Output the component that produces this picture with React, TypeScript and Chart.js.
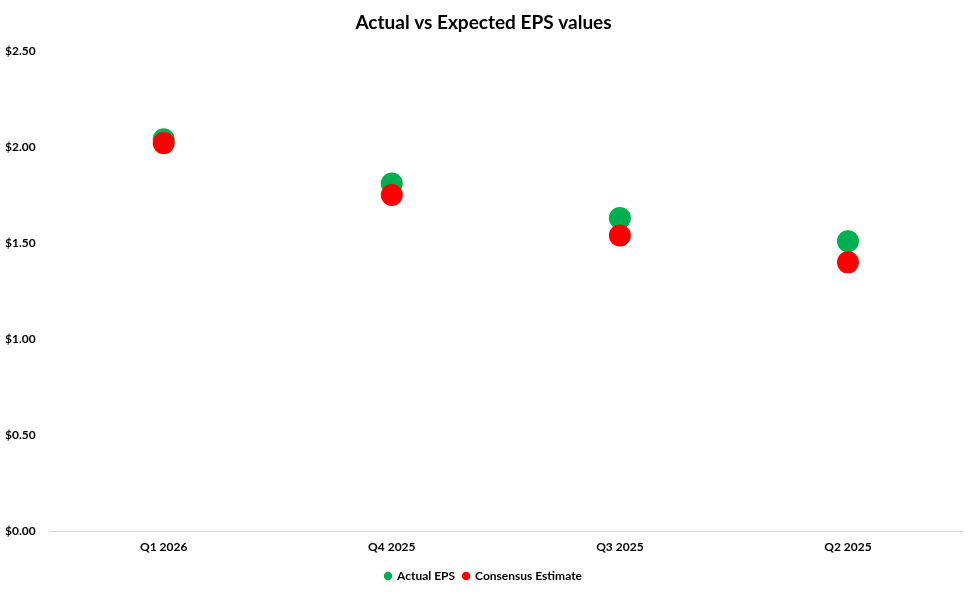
import React, { useEffect, useRef } from "react";
import { Chart, registerables } from "chart.js";

Chart.register(...registerables);

const categories = ["Q1 2026", "Q4 2025", "Q3 2025", "Q2 2025"];
const actualEPS = [2.04, 1.81, 1.63, 1.51];
const consensusEstimate = [2.02, 1.75, 1.54, 1.40];
const titleText = "Actual vs Expected EPS values";

const FONT = "Lato, 'Open Sans', sans-serif";

export default function App() {
  const ref = useRef<HTMLCanvasElement | null>(null);
  useEffect(() => {
    document.body.style.margin = "0";
    const ctx = ref.current!.getContext("2d")!;
    const chart = new Chart(ctx, {
      type: "line",
      data: {
        labels: categories,
        datasets: [
          {
            label: "Actual EPS",
            data: actualEPS,
            showLine: false,
            pointRadius: 11,
            pointHoverRadius: 11,
            pointBackgroundColor: "#00b050",
            pointBorderColor: "#00b050",
            backgroundColor: "#00b050",
            borderColor: "#00b050",
            borderWidth: 0,
            order: 1,
          },
          {
            label: "Consensus Estimate",
            data: consensusEstimate,
            showLine: false,
            pointRadius: 11,
            pointHoverRadius: 11,
            pointBackgroundColor: "#ff0000",
            pointBorderColor: "#ff0000",
            backgroundColor: "#ff0000",
            borderColor: "#ff0000",
            borderWidth: 0,
            order: 0,
          },
        ],
      },
      options: {
        animation: false,
        responsive: true,
        maintainAspectRatio: false,
        layout: { padding: { left: 5, right: 13, top: 0, bottom: 4 } },
        plugins: {
          title: {
            display: true,
            text: titleText,
            color: "#000000",
            font: { family: FONT, size: 19, weight: "bold" },
            padding: { top: 11, bottom: 17 },
          },
          legend: {
            position: "bottom",
            labels: {
              usePointStyle: true,
              pointStyle: "circle",
              boxWidth: 6,
              boxHeight: 6,
              padding: 8,
              color: "#000000",
              font: { family: FONT, size: 12, weight: "bold" },
              sort: (a: any, b: any) => a.datasetIndex - b.datasetIndex,
            },
          },
          tooltip: { enabled: false },
        },
        scales: {
          x: {
            offset: true,
            grid: { display: false, drawTicks: false },
            border: { display: true, color: "#d9d9d9", width: 1 },
            ticks: {
              color: "#000000",
              font: { family: FONT, size: 12, weight: "bold" },
              padding: 8,
            },
          },
          y: {
            min: 0,
            max: 2.5,
            grid: { display: false, drawTicks: false },
            border: { display: false },
            ticks: {
              stepSize: 0.5,
              crossAlign: "far",
              padding: 7,
              color: "#000000",
              font: { family: FONT, size: 12, weight: "bold" },
              callback: (v: any) => "$" + Number(v).toFixed(2),
            },
          },
        },
      },
    });
    return () => chart.destroy();
  }, []);
  return (
    <div style={{ position: "relative", width: 975, height: 596 }}>
      <canvas ref={ref} />
    </div>
  );
}
